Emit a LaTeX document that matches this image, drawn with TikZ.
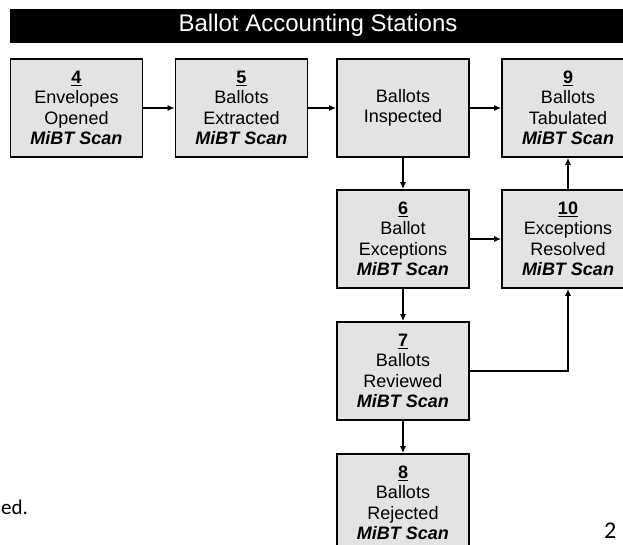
\documentclass[tikz,border=0pt]{standalone}
\usepackage{fontspec}
\setmainfont{Liberation Sans}
\newfontfamily\calfont{Carlito}
\usetikzlibrary{arrows.meta}
\tikzset{
  stationbox/.style={draw=black, line width=1.6pt, fill=gray!22, minimum width=132pt, minimum height=98pt,
    inner sep=0pt, align=center, font=\fontsize{18}{20.5}\selectfont},
  flow/.style={line width=1.5pt, -{Latex[length=7pt,width=6pt]}},
}
\newcommand{\stnum}[1]{\textbf{\underline{#1}}}
\newcommand{\mibt}{\textbf{\textit{MiBT Scan}}}
\begin{document}
\begin{tikzpicture}[x=1pt,y=-1pt]
\useasboundingbox (0,0) rectangle (623,545);
\fill[white] (0,0) rectangle (623,545);
% title bar
\node[fill=black, minimum width=620pt, minimum height=34pt, inner sep=0pt, anchor=north west] (bar) at (10,9) {};
\node[text=white, font=\fontsize{24}{28}\selectfont, anchor=base] (title) at (318,32) {Ballot Accounting Stations};
% boxes
\node[stationbox] (b4) at (76.5,108) {\stnum{4}\\Envelopes\\Opened\\\mibt};
\node[stationbox] (b5) at (241.5,108) {\stnum{5}\\Ballots\\Extracted\\\mibt};
\node[stationbox] (bI) at (403,108) {Ballots\\Inspected};
\node[stationbox] (b9) at (568,108) {\stnum{9}\\Ballots\\Tabulated\\\mibt};
\node[stationbox] (b6) at (403,239) {\stnum{6}\\Ballot\\Exceptions\\\mibt};
\node[stationbox] (b10) at (568,239) {\stnum{10}\\Exceptions\\Resolved\\\mibt};
\node[stationbox] (b7) at (403,371) {\stnum{7}\\Ballots\\Reviewed\\\mibt};
\node[stationbox] (b8) at (403,503) {\stnum{8}\\Ballots\\Rejected\\\mibt};
% connectors
\draw[flow] (b4) -- (b5);
\draw[flow] (b5) -- (bI);
\draw[flow] (bI) -- (b9);
\draw[flow] (bI) -- (b6);
\draw[flow] (b6) -- (b10);
\draw[flow] (b10) -- (b9);
\draw[flow] (b7) -- (b8);
\draw[flow] (b7.east) -| (b10.south);
\draw[flow] (b6) -- (b7);
% stray page text
\node[font=\calfont\fontsize{21}{24}\selectfont, anchor=base west, inner sep=0pt] (ed) at (1,514) {ed.};
\node[font=\calfont\fontsize{24}{28}\selectfont, anchor=north west, inner sep=0pt] (pg) at (604,523) {2};
\end{tikzpicture}
\end{document}
